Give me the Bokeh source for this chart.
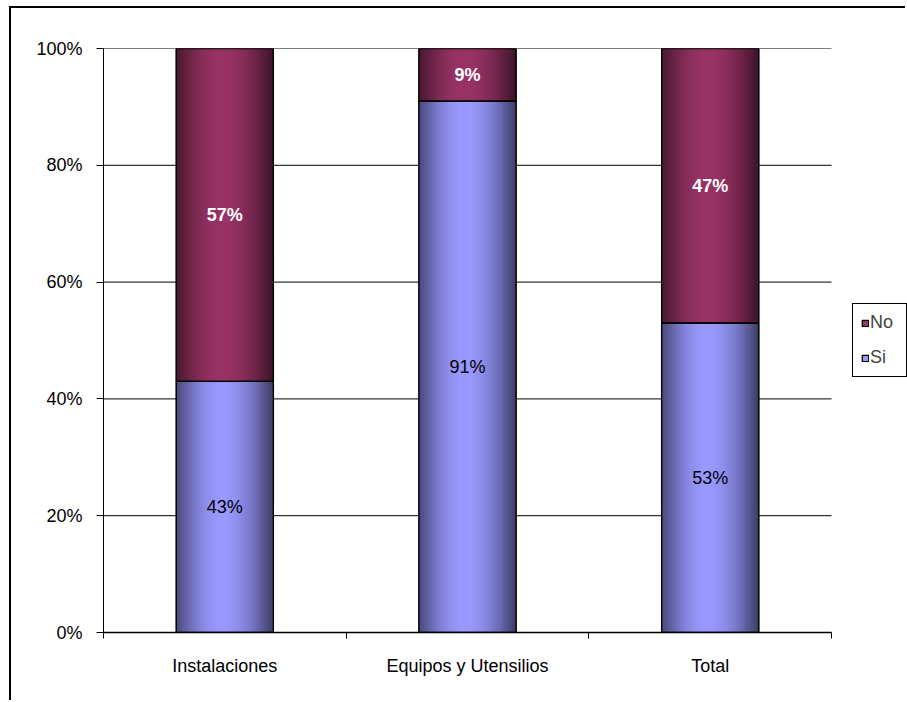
import numpy as np
from bokeh.plotting import figure
from bokeh.models import (ColumnDataSource, FixedTicker, NumeralTickFormatter,
                          Legend, LegendItem)
from bokeh.core.properties import value
from bokeh.embed import file_html
from bokeh.resources import INLINE

# ---- data -------------------------------------------------------------
categories = ["Instalaciones", "Equipos y Utensilios", "Total"]
si_pct = [43, 91, 53]
no_pct = [57, 9, 47]
y_ticks = [0, 20, 40, 60, 80, 100]

# ---- styling ----------------------------------------------------------
FONT = "Liberation Sans"
FONT_SIZE = "18px"
SI_RGB = (153, 153, 255)
NO_RGB = (153, 51, 102)
BAR_W = 0.4
N_CAT = len(categories)
# the plotting area spans the categories plus a strip on the right that
# holds the legend
X_END = N_CAT * 804 / 728


def hex_of(rgb):
    return "#%02x%02x%02x" % rgb


def gradient_row(rgb, n=100, peak=0.47, dark_left=0.48, dark_right=0.40):
    """One-row RGBA image: dark edges, light band just left of centre."""
    t = (np.arange(n) + 0.5) / n
    left = dark_left + (1 - dark_left) * np.sin(np.pi / 2 * np.clip(t / peak, 0, 1))
    right = dark_right + (1 - dark_right) * np.sin(np.pi / 2 * np.clip((1 - t) / (1 - peak), 0, 1))
    f = np.where(t < peak, left, right)
    img = np.empty((1, n), dtype=np.uint32)
    view = img.view(dtype=np.uint8).reshape((1, n, 4))
    for c in range(3):
        view[0, :, c] = np.clip(rgb[c] * f, 0, 255).astype(np.uint8)
    view[0, :, 3] = 255
    return img


xc = np.arange(N_CAT) + 0.5
si = np.array(si_pct) / 100.0
no = np.array(no_pct) / 100.0

src = ColumnDataSource(dict(
    x=xc, si=si, no_top=si + no, si_mid=si / 2, no_mid=si + no / 2,
    si_lbl=[f"{v}%" for v in si_pct], no_lbl=[f"{v}%" for v in no_pct],
))

p = figure(width=896, height=694, x_range=(0, X_END), y_range=(0, 1),
           output_backend="svg", toolbar_location=None,
           min_border_left=92, min_border_right=0,
           min_border_top=40, min_border_bottom=70,
           background_fill_color="white", border_fill_color="white")
p.outline_line_color = None
# chart-area frame: left and top edges of the surrounding box
p.styles = {"margin-left": "9px", "margin-top": "6px",
            "border-left": "2px solid black", "border-top": "2px solid black"}

# horizontal gridlines across the category area only
grid_y = [v / 100 for v in y_ticks]
p.segment(x0=[0] * len(grid_y), x1=[N_CAT] * len(grid_y), y0=grid_y, y1=grid_y,
          line_color="black", line_width=1)

# base bars (also used by the legend)
r_si = p.vbar(x="x", bottom=0, top="si", width=BAR_W, source=src,
              fill_color=hex_of(SI_RGB), line_color="black", line_width=1.3)
r_no = p.vbar(x="x", bottom="si", top="no_top", width=BAR_W, source=src,
              fill_color=hex_of(NO_RGB), line_color="black", line_width=1.3)

# shaded fills
si_img, no_img = gradient_row(SI_RGB), gradient_row(NO_RGB)
img_src = ColumnDataSource(dict(
    image=[si_img] * N_CAT + [no_img] * N_CAT,
    x=list(xc - BAR_W / 2) * 2,
    y=list(np.zeros(N_CAT)) + list(si),
    dw=[BAR_W] * (2 * N_CAT),
    dh=list(si) + list(no),
))
p.image_rgba(image="image", x="x", y="y", dw="dw", dh="dh", source=img_src)

# outlines on top of the shading
p.vbar(x="x", bottom=0, top="si", width=BAR_W, source=src,
       fill_alpha=0, line_color="black", line_width=1.3)
p.vbar(x="x", bottom="si", top="no_top", width=BAR_W, source=src,
       fill_alpha=0, line_color="black", line_width=1.3)

# value labels
p.text(x="x", y="si_mid", text="si_lbl", source=src, text_align="center",
       text_baseline="middle", text_font=value(FONT),
       text_font_size=FONT_SIZE, text_color="black")
p.text(x="x", y="no_mid", text="no_lbl", source=src, text_align="center",
       text_baseline="middle", text_font=value(FONT),
       text_font_size=FONT_SIZE, text_font_style="bold", text_color="white")

# axes
p.yaxis.ticker = FixedTicker(ticks=grid_y)
p.yaxis.formatter = NumeralTickFormatter(format="0%")
p.yaxis.major_tick_out = 7
p.yaxis.major_tick_in = 0
p.yaxis.minor_tick_line_color = None
p.yaxis.major_label_standoff = 14
p.yaxis.axis_line_color = "black"
p.yaxis.major_tick_line_color = "black"

p.xaxis.ticker = FixedTicker(ticks=list(xc), minor_ticks=list(range(N_CAT + 1)))
p.xaxis.major_label_overrides = {float(x): c for x, c in zip(xc, categories)}
p.xaxis.bounds = (0, N_CAT)
p.xaxis.major_tick_out = 0
p.xaxis.major_tick_in = 0
p.xaxis.minor_tick_out = 6
p.xaxis.minor_tick_in = 0
p.xaxis.minor_tick_line_color = "black"
p.xaxis.axis_line_color = "black"
p.xaxis.axis_line_width = 1.5
p.xaxis.major_label_standoff = 17

for ax in (p.xaxis, p.yaxis):
    ax.major_label_text_font = FONT
    ax.major_label_text_font_size = FONT_SIZE
    ax.major_label_text_color = "black"

p.xgrid.visible = False
p.ygrid.visible = False

legend = Legend(items=[LegendItem(label="No", renderers=[r_no]),
                       LegendItem(label="Si", renderers=[r_si])],
                location=(749, 255), orientation="vertical",
                padding=8, spacing=14, margin=0,
                glyph_width=8, glyph_height=8, label_standoff=1,
                label_height=20, label_width=28,
                label_text_font=FONT, label_text_font_size=FONT_SIZE,
                border_line_color="black", border_line_alpha=1.0,
                border_line_width=1,
                background_fill_color="white", background_fill_alpha=1)
p.add_layout(legend, "center")

open("out.html", "w").write(file_html(p, INLINE))
